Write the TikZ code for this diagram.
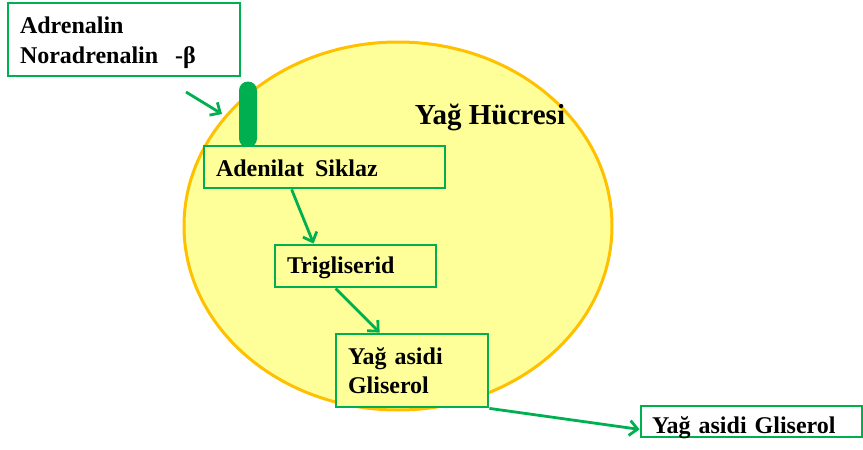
\documentclass[tikz,border=0pt]{standalone}
\usepackage{fontspec}
\setmainfont{Liberation Serif}
\usetikzlibrary{arrows.meta,calc,shapes.geometric}
\definecolor{cellfill}{HTML}{FFFF99}
\definecolor{cellline}{HTML}{FFC000}
\definecolor{grn}{HTML}{00B050}
\begin{document}
\begin{tikzpicture}[x=1pt,y=-1pt,
  txt/.style={font=\fontsize{24}{30}\selectfont\bfseries},
  box/.style={txt,draw=grn,line width=2.8pt,inner xsep=12pt,inner ysep=0pt,align=left,anchor=center},
  arr/.style={draw=grn,line width=2.8pt,-{Straight Barb[length=8pt,width=15pt,line width=2.8pt]}}]
\useasboundingbox (0,0) rectangle (863,450);
% cell
\node[draw=cellline,fill=cellfill,line width=3pt,ellipse,minimum width=428pt,minimum height=368pt,inner sep=0pt] (cell) at (398,226) {};
\node[font=\fontsize{29}{34}\selectfont\bfseries] (title) at (490,117) {Yağ Hücresi};
% receptor
\node[fill=grn,rounded corners=9pt,minimum width=18pt,minimum height=66pt,inner sep=0pt] (rec) at (248,114.5) {};
% boxes
\node[box,fill=white,minimum width=232pt,minimum height=73pt,text width=208pt] (adr) at (124,39.5) {\rule{0pt}{22.6pt}Adrenalin\\Noradrenalin\hspace{17pt}-β};
\node[box,fill=cellfill,minimum width=241pt,minimum height=42pt,text width=217pt,text height=18pt,text depth=0pt] (aden) at (324.5,167) {Adenilat\hspace{11pt}Siklaz};
\node[box,fill=cellfill,minimum width=161pt,minimum height=42pt,text width=137pt,text height=15pt,text depth=0pt] (trig) at (355.5,266) {Trigliserid};
\node[box,fill=cellfill,minimum width=152pt,minimum height=73pt,text width=128pt,font=\fontsize{24}{29}\selectfont\bfseries] (yag) at (412,370.5) {\rule{0pt}{18pt}Yağ asidi\\Gliserol};
\node[box,fill=white,minimum width=221pt,minimum height=31pt,text width=199pt,inner xsep=11pt,text height=24pt,text depth=0pt] (out) at (751.5,421.5) {Yağ asidi Gliserol};
% arrows
\coordinate (sig) at (186,92);
\coordinate (mem) at (222,114);
\draw[arr] (sig) -- (mem);
\draw[arr] ($(aden.south west)+(89,0)$) -- ($(trig.north west)+(40,0)$);
\draw[arr] ($(trig.south west)+(62,0)$) -- ($(yag.north west)+(45,0)$);
\draw[arr] (yag.south east) -- ($(out.south west)+(0,-9)$);
\end{tikzpicture}
\end{document}
